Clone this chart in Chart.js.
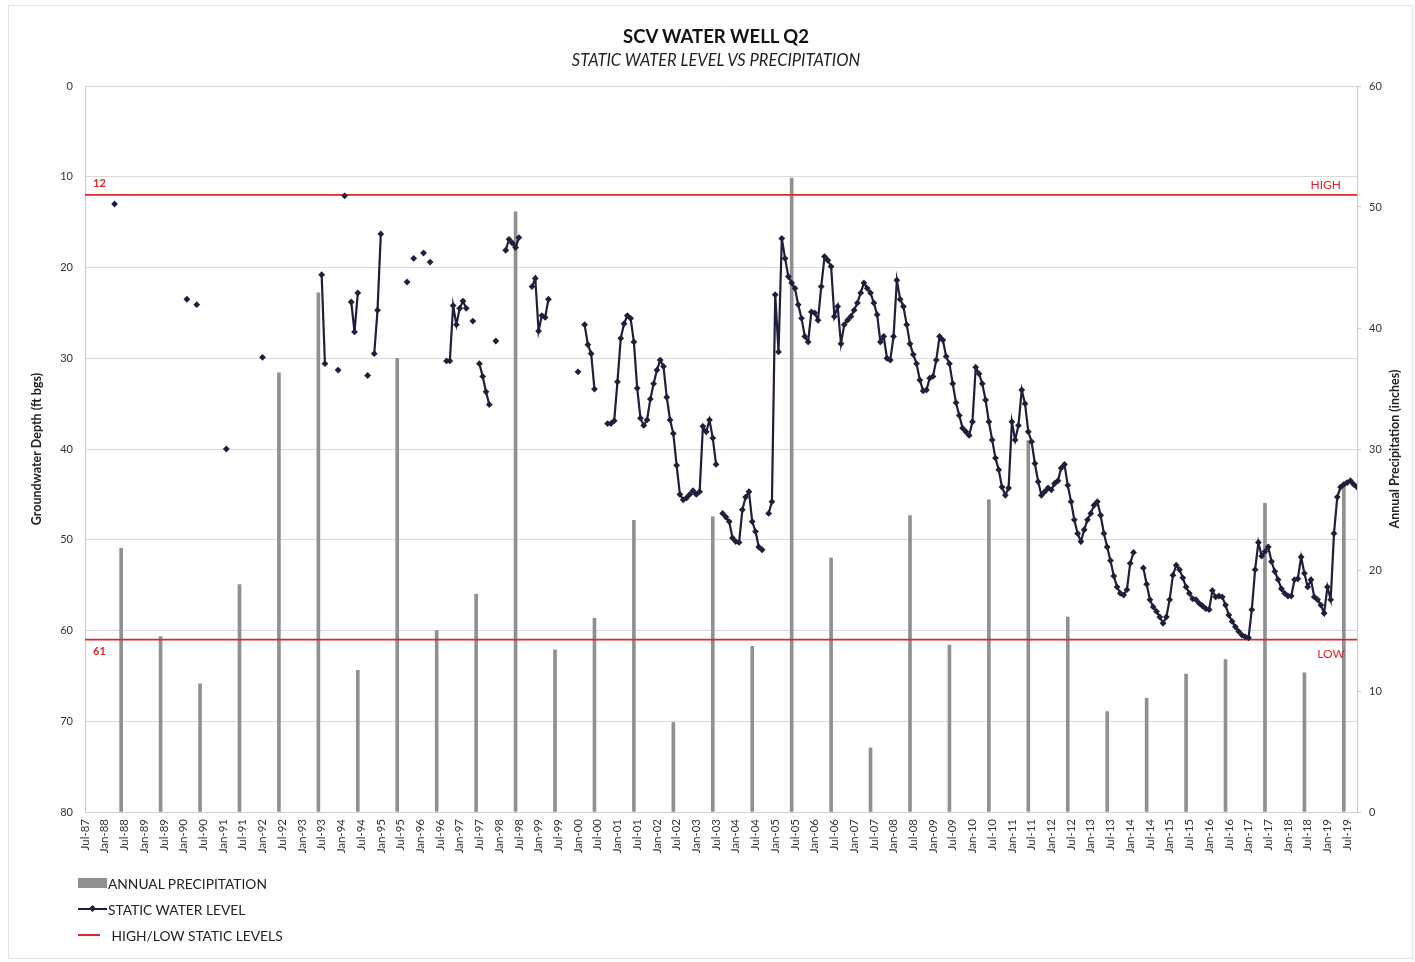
<!DOCTYPE html>
<html>
<head>
<meta charset="utf-8">
<title>SCV Water Well Q2</title>
<script src="https://cdn.jsdelivr.net/npm/chart.js@4.4.1/dist/chart.umd.min.js"></script>
<style>
  body { margin: 0; background: #fff; font-family: Lato, "Open Sans", sans-serif; }
  #wrap { position: relative; width: 1415px; height: 962px; }
  #frame { position: absolute; left: 8px; top: 5px; right: 2px; bottom: 3px; border: 1px solid #e4e4e4; pointer-events: none; }
  #title { position: absolute; left: 466px; width: 500px; top: 25px; text-align: center; font-size: 18.5px; font-weight: bold; color: #111; }
  #subtitle { position: absolute; left: 416px; width: 600px; top: 50px; text-align: center; font-size: 16.5px; font-style: italic; color: #222; }
  #legend { position: absolute; left: 78px; top: 870px; font-size: 13.8px; color: #222; }
  .item { display: flex; align-items: center; height: 26px; }
  .sym { width: 30px; height: 12px; position: relative; margin-right: 0; }
</style>
</head>
<body>
<div id="wrap">
  <canvas id="wellChart"></canvas>
  <div id="frame"></div>
  <div id="title">SCV WATER WELL Q2</div>
  <div id="subtitle">STATIC WATER LEVEL VS PRECIPITATION</div>
  <div id="legend">
    <div class="item"><span class="sym"><span style="position:absolute;left:0;top:1px;width:29px;height:10px;background:#909090"></span></span>ANNUAL PRECIPITATION</div>
    <div class="item"><span class="sym"><span style="position:absolute;left:0;top:5px;width:29px;height:2px;background:#1e1f3a"></span><span style="position:absolute;left:12px;top:3px;width:5px;height:5px;background:#1e1f3a;transform:rotate(45deg)"></span></span>STATIC WATER LEVEL</div>
    <div class="item"><span class="sym"><span style="position:absolute;left:0;top:5px;width:22px;height:2px;background:#e0262c"></span></span>&nbsp;HIGH/LOW STATIC LEVELS</div>
  </div>
</div>
<script>
// annual precipitation, one bar per water year (ending June)
const precipYears = [1988, 1989, 1990, 1991, 1992, 1993, 1994, 1995, 1996, 1997, 1998,
  1999, 2000, 2001, 2002, 2003, 2004, 2005, 2006, 2007, 2008, 2009, 2010, 2011,
  2012, 2013, 2014, 2015, 2016, 2017, 2018, 2019];
const precipInches = [21.8, 14.5, 10.6, 18.8, 36.3, 42.9, 11.7, 37.5, 15.0, 18.0, 49.6,
  13.4, 16.0, 24.1, 7.4, 24.4, 13.7, 52.4, 21.0, 5.3, 24.5, 13.8, 25.8, 30.7,
  16.1, 8.3, 9.4, 11.4, 12.6, 25.5, 11.5, 27.0];

// static water level readings (ft bgs); null = break in the line
const levelDates = [
  "1988-04", "1988-05", "1990-02", "1990-03", "1990-05", "1990-06", "1991-02", "1991-03",
  "1992-01", "1992-02", "1993-07", "1993-08", "1993-09", "1993-12", "1994-01", "1994-02",
  "1994-03", "1994-04", "1994-05", "1994-06", "1994-07", "1994-09", "1994-10", "1994-11",
  "1994-12", "1995-01", "1995-02", "1995-09", "1995-10", "1995-11", "1995-12", "1996-02",
  "1996-03", "1996-04", "1996-05", "1996-09", "1996-10", "1996-11", "1996-12", "1997-01",
  "1997-02", "1997-03", "1997-04", "1997-05", "1997-06", "1997-07", "1997-08", "1997-09",
  "1997-10", "1997-11", "1997-12", "1998-01", "1998-03", "1998-04", "1998-05", "1998-06",
  "1998-07", "1998-08", "1998-11", "1998-12", "1999-01", "1999-02", "1999-03", "1999-04",
  "1999-05", "2000-01", "2000-02", "2000-03", "2000-04", "2000-05", "2000-06", "2000-07",
  "2000-10", "2000-11", "2000-12",
  "2001-01", "2001-02", "2001-03", "2001-04", "2001-05", "2001-06", "2001-07", "2001-08", "2001-09", "2001-10", "2001-11", "2001-12",
  "2002-01", "2002-02", "2002-03", "2002-04", "2002-05", "2002-06", "2002-07", "2002-08", "2002-09", "2002-10", "2002-11", "2002-12",
  "2003-01", "2003-02", "2003-03", "2003-04", "2003-05", "2003-06", "2003-07", "2003-08", "2003-09", "2003-10", "2003-11", "2003-12",
  "2004-01", "2004-02", "2004-03", "2004-04", "2004-05", "2004-06", "2004-07", "2004-08", "2004-09", "2004-10", "2004-11", "2004-12",
  "2005-01", "2005-02", "2005-03", "2005-04", "2005-05", "2005-06", "2005-07", "2005-08", "2005-09", "2005-10", "2005-11", "2005-12",
  "2006-01", "2006-02", "2006-03", "2006-04", "2006-05", "2006-06", "2006-07", "2006-08", "2006-09", "2006-10", "2006-11", "2006-12",
  "2007-01", "2007-02", "2007-03", "2007-04", "2007-05", "2007-06", "2007-07", "2007-08", "2007-09", "2007-10", "2007-11", "2007-12",
  "2008-01", "2008-02", "2008-03", "2008-04", "2008-05", "2008-06", "2008-07", "2008-08", "2008-09", "2008-10", "2008-11", "2008-12",
  "2009-01", "2009-02", "2009-03", "2009-04", "2009-05", "2009-06", "2009-07", "2009-08", "2009-09", "2009-10", "2009-11", "2009-12",
  "2010-01", "2010-02", "2010-03", "2010-04", "2010-05", "2010-06", "2010-07", "2010-08", "2010-09", "2010-10", "2010-11", "2010-12",
  "2011-01", "2011-02", "2011-03", "2011-04", "2011-05", "2011-06", "2011-07", "2011-08", "2011-09", "2011-10", "2011-11", "2011-12",
  "2012-01", "2012-02", "2012-03", "2012-04", "2012-05", "2012-06", "2012-07", "2012-08", "2012-09", "2012-10", "2012-11", "2012-12",
  "2013-01", "2013-02", "2013-03", "2013-04", "2013-05", "2013-06", "2013-07", "2013-08", "2013-09", "2013-10", "2013-11", "2013-12",
  "2014-01", "2014-02", "2014-03", "2014-05", "2014-06", "2014-07", "2014-08", "2014-09", "2014-10", "2014-11", "2014-12",
  "2015-01", "2015-02", "2015-03", "2015-04", "2015-05", "2015-06", "2015-07", "2015-08", "2015-09", "2015-10", "2015-11", "2015-12",
  "2016-01", "2016-02", "2016-03", "2016-04", "2016-05", "2016-06", "2016-07", "2016-08", "2016-09", "2016-10", "2016-11", "2016-12",
  "2017-01", "2017-02", "2017-03", "2017-04", "2017-05", "2017-06", "2017-07", "2017-08", "2017-09", "2017-10", "2017-11", "2017-12",
  "2018-01", "2018-02", "2018-03", "2018-04", "2018-05", "2018-06", "2018-07", "2018-08", "2018-09", "2018-10", "2018-11", "2018-12",
  "2019-01", "2019-02", "2019-03", "2019-04", "2019-05", "2019-06", "2019-07", "2019-08", "2019-09", "2019-10"
];
const levelDepths = [
  13.0, null, 23.5, null, 24.1, null, 40.0, null,
  29.9, null, 20.8, 30.6, null, 31.3, null, 12.1,
  null, 23.8, 27.1, 22.8, null, 31.9, null, 29.5,
  24.7, 16.3, null, 21.6, null, 19.0, null, 18.4,
  null, 19.4, null, 30.3, 30.3, 24.2, 26.3, 24.5,
  23.7, 24.5, null, 25.9, null, 30.6, 32.0, 33.7,
  35.1, null, 28.1, null, 18.1, 16.9, 17.3, 17.8,
  16.7, null, 22.1, 21.2, 27.0, 25.3, 25.5, 23.5,
  null, 31.5, null, 26.3, 28.5, 29.5, 33.4, null,
  37.2, 37.2, 36.9,
  32.6, 27.8, 26.2, 25.3, 25.6, 28.2, 33.3, 36.6, 37.4, 36.8, 34.5, 32.8,
  31.3, 30.2, 30.9, 34.3, 36.8, 38.3, 41.8, 45.0, 45.6, 45.4, 45.0, 44.6,
  45.0, 44.7, 37.5, 38.1, 36.8, 38.8, 41.7, null, 47.1, 47.5, 48.0, 49.8,
  50.2, 50.3, 46.7, 45.3, 44.7, 48.0, 49.1, 50.8, 51.1, null, 47.1, 45.8,
  23.0, 29.3, 16.8, 19.0, 21.0, 21.7, 22.3, 24.1, 25.6, 27.6, 28.2, 24.9,
  25.0, 25.8, 22.1, 18.8, 19.2, 19.9, 25.4, 24.3, 28.4, 26.3, 25.8, 25.4,
  24.7, 23.9, 22.8, 21.7, 22.3, 22.8, 23.9, 25.2, 28.2, 27.6, 30.0, 30.2,
  27.6, 21.4, 23.5, 24.3, 26.3, 28.4, 29.6, 30.6, 32.4, 33.6, 33.5, 32.2,
  32.0, 30.2, 27.6, 28.0, 29.8, 30.6, 32.8, 34.9, 36.3, 37.7, 38.1, 38.5,
  37.0, 31.0, 31.7, 32.8, 34.6, 37.0, 39.0, 41.0, 42.3, 44.2, 45.1, 44.3,
  37.0, 39.0, 37.4, 33.5, 35.0, 38.1, 39.2, 41.6, 43.6, 45.1, 44.7, 44.3,
  44.5, 43.8, 43.5, 42.1, 41.7, 44.0, 45.8, 47.8, 49.3, 50.2, 48.9, 47.8,
  47.1, 46.2, 45.8, 47.3, 49.3, 50.8, 52.3, 54.0, 55.2, 55.9, 56.1, 55.5,
  52.6, 51.4, null, 53.1, 54.9, 56.6, 57.4, 57.9, 58.5, 59.2, 58.5,
  56.6, 53.9, 52.8, 53.3, 54.2, 55.2, 55.9, 56.5, 56.6, 57.0, 57.3, 57.6,
  57.7, 55.6, 56.3, 56.2, 56.3, 57.2, 58.3, 59.0, 59.6, 60.1, 60.5, 60.7,
  60.8, 57.7, 53.3, 50.3, 51.8, 51.3, 50.8, 52.4, 53.5, 54.4, 55.4, 55.9,
  56.2, 56.2, 54.4, 54.3, 51.9, 53.7, 55.2, 54.4, 56.3, 56.6, 57.2, 58.1,
  55.2, 56.6, 49.3, 45.3, 44.2, 43.9, 43.7, 43.5, 43.9, 44.2
];

const HIGH_LEVEL = 12;
const LOW_LEVEL = 61;

const MONTHS = ["Jan", "Feb", "Mar", "Apr", "May", "Jun", "Jul", "Aug", "Sep", "Oct", "Nov", "Dec"];
const X_MIN = 0;    // Jul-87
const X_MAX = 387;  // just past Jul-19
const RED = "#e0262c";
const NAVY = "#1e1f3a";

// months counted from Jul-87
function monthIndex(d) {
  const [yr, mo] = d.split("-").map(Number);
  return (yr - 1987) * 12 + (mo - 7);
}

function monthLabel(m) {
  const t = m + 6;
  const yr = 1987 + Math.floor(t / 12);
  return MONTHS[t % 12] + "-" + String(yr).slice(2);
}

const refLabels = {
  id: "refLabels",
  afterDatasetsDraw(chart) {
    const { ctx, chartArea, scales } = chart;
    const yHigh = scales.y.getPixelForValue(HIGH_LEVEL);
    const yLow = scales.y.getPixelForValue(LOW_LEVEL);
    ctx.save();
    ctx.fillStyle = RED;
    ctx.textBaseline = "middle";
    ctx.font = "bold 11px Lato";
    ctx.textAlign = "left";
    ctx.fillText(String(HIGH_LEVEL), chartArea.left + 8, yHigh - 11);
    ctx.fillText(String(LOW_LEVEL), chartArea.left + 8, yLow + 12);
    ctx.font = "12px Lato";
    ctx.textAlign = "right";
    ctx.fillText("HIGH", chartArea.right - 16, yHigh - 10);
    ctx.fillText("LOW", chartArea.right - 12, yLow + 15);
    ctx.restore();

    // right axis title reads bottom-to-top like the left one
    ctx.save();
    ctx.translate(1395, (chartArea.top + chartArea.bottom) / 2);
    ctx.rotate(-Math.PI / 2);
    ctx.textAlign = "center";
    ctx.textBaseline = "middle";
    ctx.fillStyle = "#222";
    ctx.font = "bold 12.5px Lato";
    ctx.fillText("Annual Precipitation (inches)", 0, 0);
    ctx.restore();
  },
};

const ctx = document.getElementById("wellChart").getContext("2d");

new Chart(ctx, {
  type: "line",
  data: {
    datasets: [
      {
        label: "STATIC WATER LEVEL",
        data: levelDates.map((d, i) => ({ x: monthIndex(d), y: levelDepths[i] })),
        yAxisID: "y",
        borderColor: NAVY,
        backgroundColor: NAVY,
        borderWidth: 2.2,
        pointStyle: "rectRot",
        pointRadius: 3.4,
        pointBackgroundColor: NAVY,
        pointBorderWidth: 0,
        spanGaps: false,
        tension: 0,
        order: 0,
      },
      {
        label: "HIGH",
        data: [{ x: X_MIN, y: HIGH_LEVEL }, { x: X_MAX, y: HIGH_LEVEL }],
        yAxisID: "y",
        borderColor: RED,
        borderWidth: 1.8,
        pointRadius: 0,
        order: 1,
      },
      {
        label: "LOW",
        data: [{ x: X_MIN, y: LOW_LEVEL }, { x: X_MAX, y: LOW_LEVEL }],
        yAxisID: "y",
        borderColor: RED,
        borderWidth: 1.8,
        pointRadius: 0,
        order: 1,
      },
      {
        type: "bar",
        label: "ANNUAL PRECIPITATION",
        data: precipYears.map((yr, i) => ({ x: monthIndex(yr + "-06"), y: precipInches[i] })),
        yAxisID: "y2",
        backgroundColor: "#909090",
        barThickness: 3,
        borderWidth: 0,
        order: 2,
      },
    ],
  },
  options: {
    responsive: true,
    maintainAspectRatio: false,
    animation: false,
    layout: { padding: { top: 86, left: 0, right: 0, bottom: 90 } },
    plugins: {
      legend: { display: false },
      tooltip: { enabled: false },
      title: { display: false },
    },
    scales: {
      x: {
        type: "linear",
        min: X_MIN,
        max: X_MAX,
        offset: false,
        afterBuildTicks(scale) {
          const ticks = [];
          for (let v = 0; v <= 384; v += 6) ticks.push({ value: v });
          scale.ticks = ticks;
        },
        afterFit(scale) {
          scale.height = 60;
        },
        grid: { display: false, drawTicks: false },
        border: { display: true, color: "#d0d0d0" },
        ticks: {
          autoSkip: false,
          minRotation: 90,
          maxRotation: 90,
          padding: 7,
          color: "#333",
          font: { family: "Lato", size: 11.5 },
          callback: (v) => monthLabel(v),
        },
      },
      y: {
        type: "linear",
        position: "left",
        reverse: true,
        min: 0,
        max: 80,
        afterFit(scale) {
          scale.width = 85;
        },
        grid: { color: "#dadada", drawTicks: false },
        border: { display: true, color: "#c8c8c8" },
        ticks: {
          stepSize: 10,
          padding: 12,
          color: "#333",
          font: { family: "Lato", size: 11 },
        },
        title: {
          display: true,
          text: "Groundwater Depth (ft bgs)",
          color: "#222",
          font: { family: "Lato", size: 12.5, weight: "bold" },
          padding: { top: 29, bottom: 0 },
        },
      },
      y2: {
        type: "linear",
        position: "right",
        min: 0,
        max: 60,
        afterFit(scale) {
          scale.width = 58;
        },
        grid: { drawOnChartArea: false, drawTicks: true, tickLength: 4, color: "#c8c8c8" },
        border: { display: true, color: "#c8c8c8" },
        ticks: {
          stepSize: 10,
          padding: 8,
          color: "#333",
          font: { family: "Lato", size: 11 },
        },
      },
    },
  },
  plugins: [refLabels],
});
</script>
</body>
</html>
